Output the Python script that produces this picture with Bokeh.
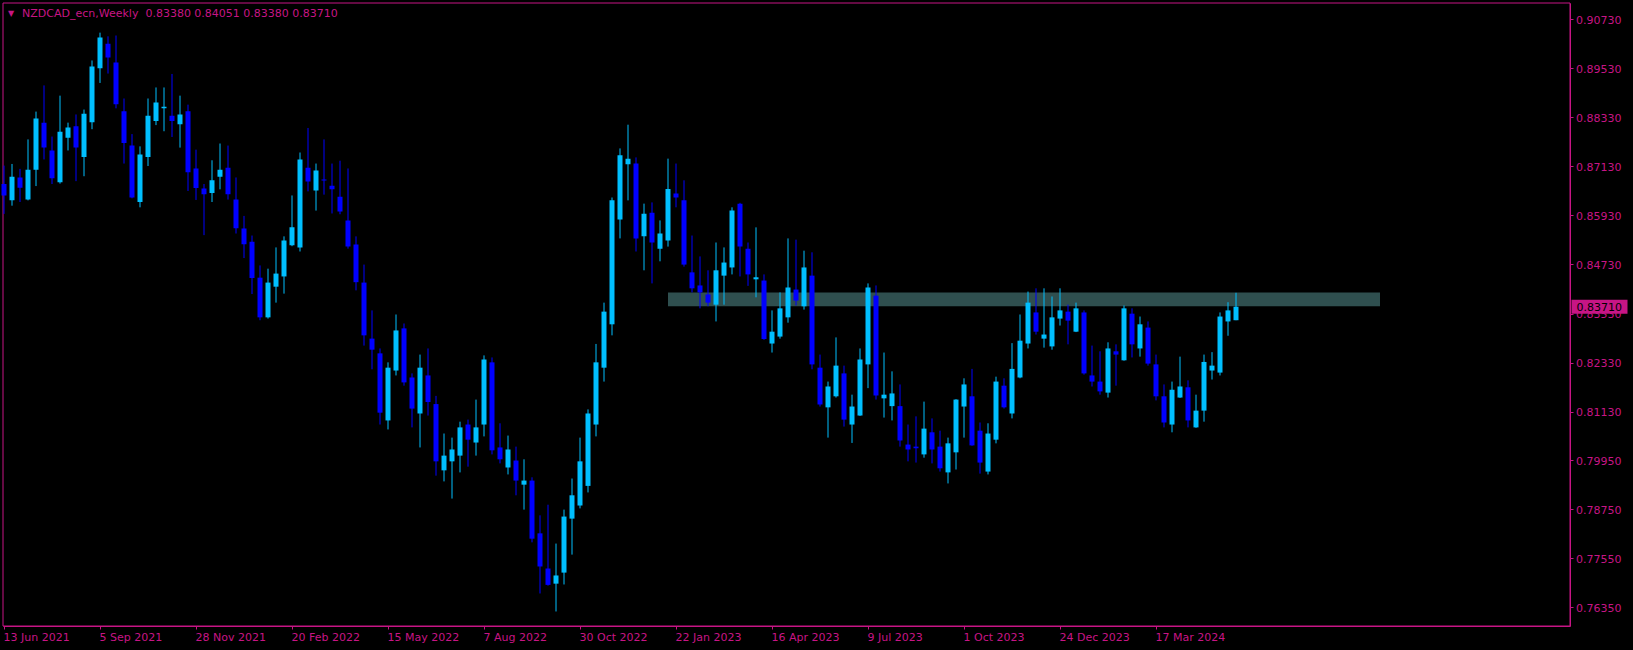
from bokeh.plotting import figure
from bokeh.models import FixedTicker, Label, LabelSet, Range1d, ColumnDataSource, PrintfTickFormatter, CustomJSTickFormatter
from bokeh.core.properties import value
from bokeh.embed import file_html
from bokeh.resources import INLINE

# ---------------- data ----------------
symbol_title = "NZDCAD_ecn,Weekly\u00a0 0.83380 0.84051 0.83380 0.83710"

opens = [
    0.8671, 0.8631, 0.8687, 0.8633, 0.8706, 0.8821, 0.8753, 0.8675, 0.8784, 0.8812,
    0.8737, 0.8822, 0.8954, 0.9014, 0.8968, 0.8849, 0.8765, 0.8627, 0.8737, 0.8825,
    0.8856, 0.8838, 0.8817, 0.8849, 0.8709, 0.8660, 0.8649, 0.8689, 0.8711, 0.8633,
    0.8562, 0.8530, 0.8442, 0.8345, 0.8420, 0.8445, 0.8521, 0.8516, 0.8711, 0.8655,
    0.8682, 0.8667, 0.8640, 0.8582, 0.8523, 0.8430, 0.8293, 0.8257, 0.8093, 0.8215,
    0.8318, 0.8198, 0.8110, 0.8203, 0.8133, 0.7971, 0.7993, 0.8007, 0.8083, 0.8039,
    0.8083, 0.8235, 0.8027, 0.7978, 0.7995, 0.7936, 0.7946, 0.7817, 0.7731, 0.7694,
    0.7721, 0.7853, 0.7885, 0.7933, 0.8083, 0.8222, 0.8328, 0.8584, 0.8719, 0.8721,
    0.8543, 0.8601, 0.8513, 0.8533, 0.8648, 0.8631, 0.8455, 0.8423, 0.8401, 0.8376,
    0.8447, 0.8467, 0.8623, 0.8513, 0.8438, 0.8435, 0.8281, 0.8298, 0.8345, 0.8413,
    0.8372, 0.8447, 0.8222, 0.8125, 0.8152, 0.8208, 0.8083, 0.8105, 0.8230, 0.8398,
    0.8147, 0.8128, 0.8128, 0.8034, 0.8029, 0.8010, 0.8064, 0.8029, 0.7966, 0.8015,
    0.8127, 0.8152, 0.8068, 0.7968, 0.8046, 0.8178, 0.8110, 0.8198, 0.8281, 0.8357,
    0.8293, 0.8274, 0.8342, 0.8359, 0.8310, 0.8357, 0.8203, 0.8188, 0.8161, 0.8262,
    0.8240, 0.8354, 0.8269, 0.8320, 0.8230, 0.8152, 0.8083, 0.8149, 0.8174, 0.8076,
    0.8117, 0.8215, 0.8210, 0.8335, 0.83380,
]
highs = [
    0.8716, 0.8720, 0.8708, 0.8780, 0.8848, 0.8912, 0.8787, 0.8887, 0.8821, 0.8841,
    0.8853, 0.8973, 0.9041, 0.9032, 0.9034, 0.8880, 0.8793, 0.8763, 0.8880, 0.8907,
    0.8907, 0.8940, 0.8887, 0.8865, 0.8755, 0.8671, 0.8729, 0.8770, 0.8765, 0.8687,
    0.8593, 0.8545, 0.8472, 0.8464, 0.8516, 0.8543, 0.8643, 0.8748, 0.8808, 0.8721,
    0.8780, 0.8721, 0.8728, 0.8709, 0.8543, 0.8474, 0.8362, 0.8269, 0.8235, 0.8352,
    0.8330, 0.8208, 0.8254, 0.8269, 0.8153, 0.8061, 0.8051, 0.8090, 0.8095, 0.8144,
    0.8252, 0.8247, 0.8086, 0.8056, 0.8029, 0.7998, 0.7954, 0.7861, 0.7887, 0.7792,
    0.7875, 0.7951, 0.8051, 0.8120, 0.8280, 0.8381, 0.8638, 0.8758, 0.8816, 0.8736,
    0.8623, 0.8626, 0.8582, 0.8733, 0.8721, 0.8680, 0.8545, 0.8494, 0.8460, 0.8528,
    0.8516, 0.8614, 0.8625, 0.8528, 0.8565, 0.8450, 0.8362, 0.8406, 0.8538, 0.8535,
    0.8508, 0.8504, 0.8254, 0.8188, 0.8296, 0.8227, 0.8156, 0.8269, 0.8428, 0.8423,
    0.8259, 0.8213, 0.8181, 0.8083, 0.8103, 0.8139, 0.8098, 0.8068, 0.8051, 0.8145,
    0.8196, 0.8219, 0.8088, 0.8086, 0.8200, 0.8196, 0.8282, 0.8352, 0.8408, 0.8416,
    0.8416, 0.8396, 0.8416, 0.8376, 0.8381, 0.8362, 0.8276, 0.8262, 0.8284, 0.8279,
    0.8374, 0.8367, 0.8347, 0.8335, 0.8254, 0.8181, 0.8188, 0.8249, 0.8191, 0.8156,
    0.8254, 0.8260, 0.8357, 0.8382, 0.84051,
]
lows = [
    0.8598, 0.8618, 0.8627, 0.8631, 0.8666, 0.8731, 0.8671, 0.8672, 0.8753, 0.8678,
    0.8690, 0.8805, 0.8918, 0.8941, 0.8856, 0.8721, 0.8636, 0.8614, 0.8715, 0.8815,
    0.8800, 0.8786, 0.8760, 0.8654, 0.8632, 0.8546, 0.8627, 0.8658, 0.8633, 0.8550,
    0.8490, 0.8402, 0.8338, 0.8342, 0.8381, 0.8403, 0.8519, 0.8506, 0.8653, 0.8606,
    0.8645, 0.8599, 0.8597, 0.8513, 0.8411, 0.8276, 0.8218, 0.8083, 0.8071, 0.8203,
    0.8178, 0.8076, 0.8027, 0.8105, 0.7958, 0.7944, 0.7902, 0.7966, 0.7980, 0.8007,
    0.8054, 0.8010, 0.7988, 0.7961, 0.7910, 0.7875, 0.7795, 0.7670, 0.7689, 0.7626,
    0.7692, 0.7765, 0.7878, 0.7917, 0.8054, 0.8188, 0.8301, 0.8538, 0.8631, 0.8506,
    0.8460, 0.8428, 0.8482, 0.8518, 0.8614, 0.8469, 0.8406, 0.8367, 0.8372, 0.8335,
    0.8376, 0.8450, 0.8445, 0.8422, 0.8394, 0.8290, 0.8259, 0.8293, 0.8332, 0.8374,
    0.8364, 0.8218, 0.8127, 0.8051, 0.8149, 0.8078, 0.8038, 0.8104, 0.8172, 0.8144,
    0.8100, 0.8093, 0.8029, 0.7993, 0.7990, 0.8002, 0.7988, 0.7968, 0.7939, 0.7973,
    0.8051, 0.8031, 0.7963, 0.7961, 0.8037, 0.8122, 0.8098, 0.8196, 0.8269, 0.8303,
    0.8271, 0.8266, 0.8325, 0.8279, 0.8309, 0.8205, 0.8176, 0.8156, 0.8149, 0.8178,
    0.8239, 0.8247, 0.8249, 0.8227, 0.8142, 0.8076, 0.8064, 0.8148, 0.8076, 0.8075,
    0.8090, 0.8193, 0.8203, 0.8300, 0.83380,
]
closes = [
    0.8643, 0.8689, 0.8662, 0.8706, 0.8831, 0.8760, 0.8685, 0.8799, 0.8809, 0.8760,
    0.8843, 0.8958, 0.9029, 0.8980, 0.8866, 0.8771, 0.8638, 0.8743, 0.8838, 0.8870,
    0.8860, 0.8825, 0.8841, 0.8700, 0.8661, 0.8646, 0.8680, 0.8706, 0.8646, 0.8563,
    0.8524, 0.8441, 0.8345, 0.8430, 0.8452, 0.8533, 0.8565, 0.8731, 0.8677, 0.8704,
    0.8680, 0.8658, 0.8604, 0.8518, 0.8431, 0.8301, 0.8266, 0.8112, 0.8222, 0.8313,
    0.8186, 0.8122, 0.8222, 0.8138, 0.7993, 0.8007, 0.8022, 0.8076, 0.8046, 0.8076,
    0.8242, 0.8020, 0.7998, 0.8022, 0.7946, 0.7946, 0.7804, 0.7736, 0.7691, 0.7714,
    0.7858, 0.7910, 0.7993, 0.8110, 0.8235, 0.8359, 0.8631, 0.8741, 0.8733, 0.8538,
    0.8598, 0.8528, 0.8550, 0.8659, 0.8638, 0.8474, 0.8416, 0.8406, 0.8381, 0.8460,
    0.8479, 0.8606, 0.8518, 0.8450, 0.8443, 0.8292, 0.8310, 0.8367, 0.8418, 0.8386,
    0.8467, 0.8230, 0.8132, 0.8176, 0.8227, 0.8095, 0.8127, 0.8242, 0.8418, 0.8154,
    0.8156, 0.8159, 0.8044, 0.8022, 0.8025, 0.8073, 0.8022, 0.7976, 0.8037, 0.8144,
    0.8181, 0.8032, 0.7990, 0.8061, 0.8188, 0.8125, 0.8219, 0.8288, 0.8381, 0.8310,
    0.8303, 0.8345, 0.8362, 0.8337, 0.8367, 0.8208, 0.8188, 0.8164, 0.8269, 0.8254,
    0.8367, 0.8279, 0.8328, 0.8232, 0.8152, 0.8088, 0.8168, 0.8176, 0.8093, 0.8117,
    0.8236, 0.8227, 0.8347, 0.8362, 0.83710,
]

date_tick_labels = ["13 Jun 2021", "5 Sep 2021", "28 Nov 2021", "20 Feb 2022", "15 May 2022",
                    "7 Aug 2022", "30 Oct 2022", "22 Jan 2023", "16 Apr 2023", "9 Jul 2023",
                    "1 Oct 2023", "24 Dec 2023", "17 Mar 2024"]
weeks_between_labels = 12
price_ticks = [0.90730, 0.89530, 0.88330, 0.87130, 0.85930, 0.84730, 0.83530,
               0.82330, 0.81130, 0.79950, 0.78750, 0.77550, 0.76350]

zone_start_week = 83
zone_end_week = 172
zone_top = 0.8406
zone_bottom = 0.8372
last_price = 0.83710

# ---------------- styling / geometry ----------------
AX = "#C71585"
BULL = "#00BFFF"
BEAR = "#0000FF"
ZONE = "#2F4F4F"
FONT = "DejaVu Sans"

W, H = 1633, 650
BAR_PX = 8.0              # pixels per weekly bar
PX_PER_PRICE = 4090.6     # vertical scale
# visible window (whole canvas)
view_x0 = -0.4375
view_x1 = view_x0 + W / BAR_PX
view_y1 = 0.91196
view_y0 = view_y1 - H / PX_PER_PRICE
# chart (price area) edges, inside the window
chart_x0 = view_x0 + 2.5 / BAR_PX
chart_x1 = view_x0 + 1569.5 / BAR_PX
chart_y1 = view_y1 - 2.5 / PX_PER_PRICE
chart_y0 = view_y1 - 625.5 / PX_PER_PRICE

n = len(closes)
xs = list(range(n))
colors = [BULL if c >= o else BEAR for o, c in zip(opens, closes)]
tops, bots = [], []
for o, c in zip(opens, closes):
    t, b = max(o, c), min(o, c)
    if t - b < 1.0 / PX_PER_PRICE:
        m = (t + b) / 2
        t, b = m + 0.5 / PX_PER_PRICE, m - 0.5 / PX_PER_PRICE
    tops.append(t)
    bots.append(b)

src = ColumnDataSource(dict(x=xs, top=tops, bottom=bots, high=highs, low=lows, color=colors))

p = figure(width=W, height=H, x_range=Range1d(view_x0, view_x1), y_range=Range1d(view_y0, view_y1),
           y_axis_location="right", output_backend="svg", toolbar_location=None,
           background_fill_color="black", border_fill_color="black",
           min_border=0)
p.outline_line_color = None
p.xgrid.visible = False
p.ygrid.visible = False

# price axis, pinned at the right edge of the price area
yax = p.yaxis[0]
yax.fixed_location = chart_x1
yax.bounds = (chart_y0, chart_y1)
yax.ticker = FixedTicker(ticks=price_ticks)
yax.formatter = PrintfTickFormatter(format="%.5f")
yax.major_label_text_font = FONT
yax.major_label_text_font_size = "11px"
yax.major_label_text_color = AX
yax.axis_line_color = AX
yax.major_tick_line_color = AX
yax.major_tick_out = 3
yax.major_tick_in = 0
yax.minor_tick_out = 0
yax.minor_tick_in = 0
yax.major_label_standoff = 3

# time axis, pinned at the bottom edge (labels drawn left-aligned below)
label_weeks = [i * weeks_between_labels for i in range(len(date_tick_labels))]
xax = p.xaxis[0]
xax.fixed_location = chart_y0
xax.bounds = (chart_x0, chart_x1)
xax.ticker = FixedTicker(ticks=label_weeks)
xax.formatter = CustomJSTickFormatter(code="return ''")
xax.axis_line_color = AX
xax.major_tick_line_color = AX
xax.major_tick_out = 3
xax.major_tick_in = 0
xax.minor_tick_out = 0
xax.minor_tick_in = 0
xax.major_label_text_font_size = "1px"

# left/top border of the price area
p.quad(left=[chart_x0], right=[chart_x1], top=[chart_y1], bottom=[chart_y0],
       fill_color=None, line_color=AX, line_width=1)

# zone
p.quad(left=[zone_start_week], right=[zone_end_week], top=[zone_top], bottom=[zone_bottom],
       fill_color=ZONE, line_color=None)

# candles
p.segment(x0="x", y0="low", x1="x", y1="high", source=src, line_color="color", line_width=1)
p.vbar(x="x", width=0.625, top="top", bottom="bottom", source=src, fill_color="color", line_color=None)

# date labels
dsrc = ColumnDataSource(dict(x=label_weeks, y=[chart_y0] * len(label_weeks), t=date_tick_labels))
p.add_layout(LabelSet(x="x", y="y", text="t", source=dsrc, text_align="left", text_baseline="middle",
                      y_offset=-11, x_offset=-0.5, text_font=value(FONT), text_font_size=value("11px"),
                      text_color=AX))

# header
p.add_layout(Label(x=chart_x0, y=chart_y1, text="\u25BC", x_offset=8, y_offset=-10, text_align="center",
                   text_baseline="middle", text_font=FONT, text_font_size="8px", text_color=AX))
p.add_layout(Label(x=chart_x0, y=chart_y1, text=symbol_title, x_offset=19, y_offset=-10,
                   text_align="left", text_baseline="middle", text_font=FONT,
                   text_font_size="11px", text_color=AX))

# last price tag (box drawn above the axis labels)
p.quad(left=[chart_x1 + 1.5 / BAR_PX], right=[chart_x1 + 57.5 / BAR_PX],
       top=[last_price + 7 / PX_PER_PRICE], bottom=[last_price - 7 / PX_PER_PRICE],
       fill_color=AX, line_color=None, level="annotation")
p.add_layout(Label(x=chart_x1, y=last_price, text=f"{last_price:.5f}", x_offset=6.5,
                   text_align="left", text_baseline="middle", text_font=FONT, text_font_size="11px",
                   text_color="black", level="overlay"))

html = file_html(p, INLINE, title="NZDCAD_ecn,Weekly")
html = html.replace("</head>", "<style>html,body{margin:0;padding:0;background:#000;}</style></head>", 1)
open("out.html", "w").write(html)
